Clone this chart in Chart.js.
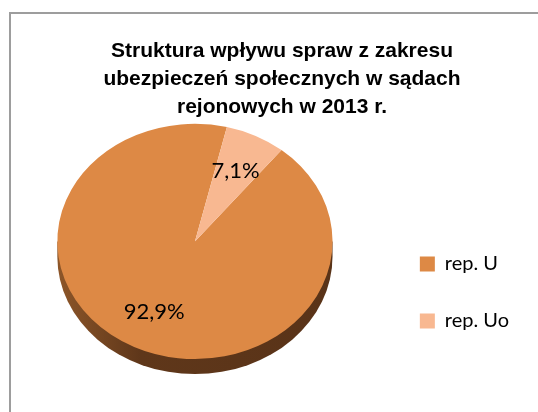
<!DOCTYPE html>
<html>
<head>
<meta charset="utf-8">
<script src="https://cdn.jsdelivr.net/npm/chart.js@4/dist/chart.umd.min.js"></script>
<style>
  body { margin: 0; overflow: hidden; background: #fff; }
  #frame { position: absolute; left: 9px; top: 12px; width: 600px; height: 500px; border: 2px solid #9d9d9d; }
  #chart { position: absolute; left: 0; top: 0; }
</style>
</head>
<body>
<div id="frame"></div>
<canvas id="chart" width="538" height="412"></canvas>
<script>
const titleLines = ['Struktura wpływu spraw z zakresu', 'ubezpieczeń społecznych w sądach', 'rejonowych w 2013 r.'];
const categories = ['rep. U', 'rep. Uo'];
const shares = [92.9, 7.1];
const sliceColors = ['#dd8945', '#f8b891'];

// fake 3D look of the Excel pie
const TILT = 0.855;
const DEPTH = 15;
const LABEL_POS = 0.67;
// Excel centres the title on the whole frame, and the legend sits lower
const TITLE_DX = 19;
const LEGEND_DY = 31;

const nudge = {
  id: 'nudge',
  afterLayout(chart) {
    chart.titleBlock.left += TITLE_DX;
    chart.titleBlock.right += TITLE_DX;
    chart.legend.top += LEGEND_DY;
    chart.legend.bottom += LEGEND_DY;
  }
};

const tilt3d = {
  id: 'tilt3d',
  beforeDatasetsDraw(chart) {
    const ctx = chart.ctx;
    const arc = chart.getDatasetMeta(0).data[0];
    const x = arc.x, r = arc.outerRadius;
    const top = chart.chartArea.top;
    const ry = r * TILT;
    const cy = top + ry;

    const g = ctx.createLinearGradient(x - r, 0, x + r, 0);
    g.addColorStop(0, '#8d5629');
    g.addColorStop(0.3, '#5f371a');
    g.addColorStop(1, '#593318');
    ctx.save();
    ctx.fillStyle = g;
    ctx.beginPath();
    ctx.moveTo(x + r, cy);
    ctx.ellipse(x, cy + DEPTH, r, ry, 0, 0, Math.PI);
    ctx.lineTo(x - r, cy);
    ctx.closePath();
    ctx.fill();
    ctx.restore();

    ctx.save();
    ctx.translate(0, top);
    ctx.scale(1, TILT);
    ctx.translate(0, -top);
  },
  afterDatasetsDraw(chart) {
    const ctx = chart.ctx;
    ctx.restore();
    const top = chart.chartArea.top;
    ctx.save();
    ctx.font = '22px Lato, "Open Sans", sans-serif';
    ctx.fillStyle = '#000';
    ctx.textAlign = 'center';
    ctx.textBaseline = 'middle';
    chart.getDatasetMeta(0).data.forEach((arc, i) => {
      const mid = (arc.startAngle + arc.endAngle) / 2;
      const px = arc.x + Math.cos(mid) * arc.outerRadius * LABEL_POS;
      const py = arc.y + Math.sin(mid) * arc.outerRadius * LABEL_POS;
      const label = shares[i].toFixed(1).replace('.', ',') + '%';
      ctx.fillText(label, px, top + (py - top) * TILT);
    });
    ctx.restore();
  }
};

new Chart(document.getElementById('chart'), {
  type: 'pie',
  data: {
    labels: categories,
    datasets: [{
      data: shares,
      backgroundColor: sliceColors,
      borderWidth: 0,
      hoverOffset: 0
    }]
  },
  options: {
    responsive: false,
    animation: false,
    rotation: 39,
    layout: { padding: { left: 7, right: 19, top: 0, bottom: 13 } },
    plugins: {
      title: {
        display: true,
        text: titleLines,
        color: '#000',
        font: { family: '"Liberation Sans", Arial, sans-serif', size: 21, weight: 'bold', lineHeight: 1.33 },
        padding: { top: 37, bottom: 3 }
      },
      legend: {
        position: 'right',
        fullSize: false,
        labels: {
          boxWidth: 15,
          boxHeight: 15,
          padding: 37,
          color: '#000',
          font: { family: 'Lato, "Open Sans", sans-serif', size: 20 }
        }
      },
      tooltip: { enabled: false }
    }
  },
  plugins: [nudge, tilt3d]
});
</script>
</body>
</html>
